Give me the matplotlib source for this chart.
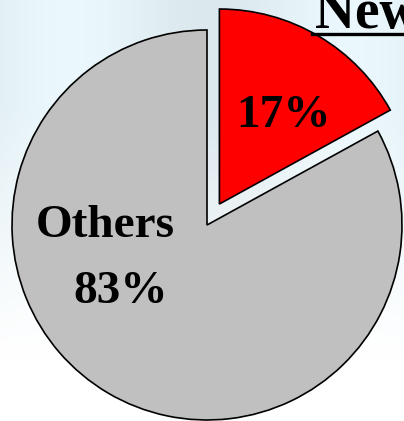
import numpy as np
import matplotlib
matplotlib.use("Agg")
import matplotlib.pyplot as plt

labels = ["New", "Others"]
shares = [17, 83]
colors = ["#ff0000", "#c0c0c0"]
pct_text = ["17%", "83%"]
title = "New"

W, H = 404, 421
fig = plt.figure(figsize=(W / 100, H / 100), dpi=100)
ax = fig.add_axes([0, 0, 1, 1])

# pale photo-like background: bluish at top, white towards the bottom
yy = np.linspace(0, 1, 100)[:, None]
xx = np.linspace(0, 1, 100)[None, :]
top = np.array([0.89, 0.94, 0.96])
bot = np.array([1.0, 1.0, 1.0])
t = np.clip((yy - 0.15) / 0.6, 0, 1)[..., None] * np.ones_like(xx)[..., None]
bg = bot * (1 - t) + top * t
bg = bg + 0.03 * np.sin(xx * 9)[..., None] * t
ax.imshow(np.clip(bg, 0, 1), extent=(0, W, 0, H), origin="lower", zorder=0)

R = 195
wedges, _ = ax.pie(shares, colors=colors, startangle=90, counterclock=False,
                   radius=R, center=(207, H - 225), explode=[0.125 * R, 0],
                   wedgeprops=dict(edgecolor="black", linewidth=1.2),
                   frame=True)
ax.set_xlim(0, W)
ax.set_ylim(0, H)
ax.set_aspect("equal")
ax.axis("off")

fnt = dict(family="Liberation Serif", weight="bold", color="black", fontsize=34)
ax.text(283, H - 127, pct_text[0], ha="center", va="baseline", **fnt)
ax.text(105, H - 237, labels[1], ha="center", va="baseline", **fnt)
ax.text(121, H - 303, pct_text[1], ha="center", va="baseline", **fnt)

# title sits at the top right corner, running off the edge like the source slide
ax.text(315, H - 28, title, ha="left", va="baseline",
        family="Liberation Serif", weight="bold", fontsize=40)
ax.plot([312, W], [H - 33.5, H - 33.5], color="black", lw=2.4)

fig.savefig("out.png", dpi=100)
